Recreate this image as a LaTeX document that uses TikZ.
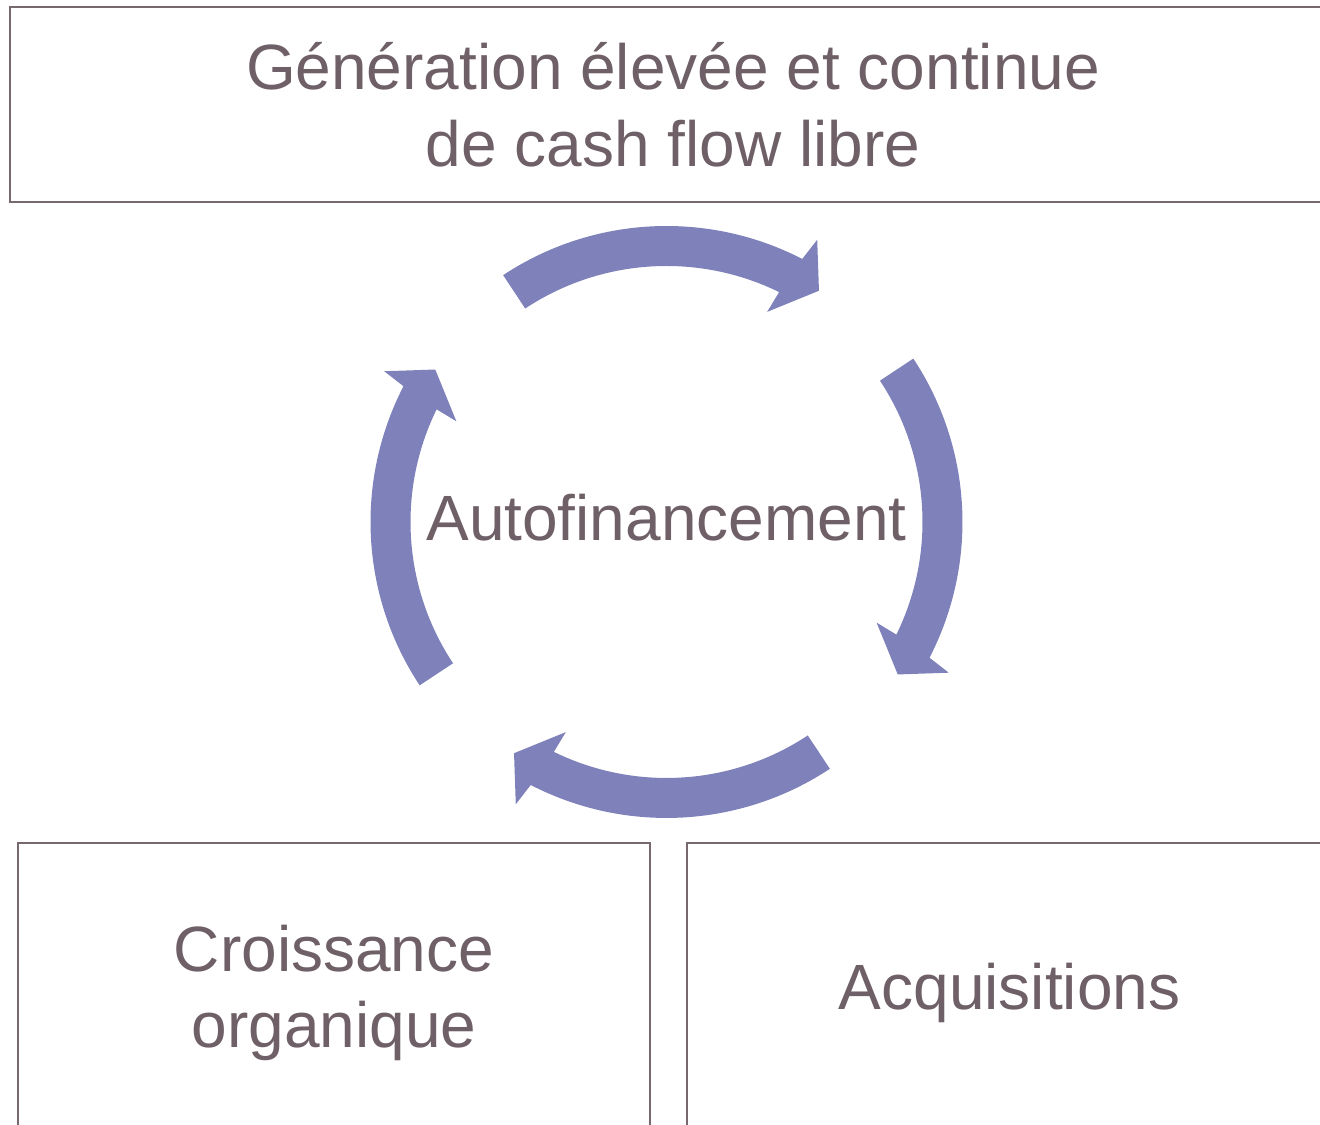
\documentclass[tikz,border=0pt]{standalone}
\usepackage{fontspec}
\setmainfont{Liberation Sans}
\usetikzlibrary{calc}
\definecolor{labelgray}{RGB}{111,96,104}
\definecolor{framegray}{RGB}{118,104,110}
\definecolor{cyclepurple}{RGB}{127,129,187}
\tikzstyle{box}=[rectangle, draw=framegray, line width=0.02cm, fill=white, inner sep=0pt, anchor=center]
\tikzstyle{annot}=[align=center, text=labelgray, font=\fontsize{18.2}{21.8}\selectfont]
\newcommand{\cyclearrow}[1]
{
  \begin{scope}[shift={(ctr)}, rotate=#1]
    \fill[cyclepurple] (123.5:296) arc[start angle=123.5, end angle=62.7, radius=296]
      -- (61.9:320) -- (56.6:277) -- (64.4:233) -- (63.9:256)
      arc[start angle=63.9, end angle=123.5, radius=256] -- cycle;
  \end{scope}
}

\begin{document}
\begin{tikzpicture}[x=0.01cm, y=0.01cm]
	\useasboundingbox (0,0) rectangle (1320,1125);
	\coordinate (ctr) at (666.5,603);

	\node[box, annot, minimum width=13.26cm, minimum height=1.95cm](cashflow) at (673,1020.5){G\'en\'eration \'elev\'ee et continue\\de cash flow libre};
	\node[box, annot, minimum width=6.32cm, minimum height=3cm](organic) at (334,132){Croissance\\organique};
	\node[box, annot, minimum width=6.45cm, minimum height=3cm](acquis) at (1009.5,132){Acquisitions};

	% four arrows of the cycle, clockwise
	\foreach \rot in {0,-90,-180,-270}
	{
		\cyclearrow{\rot}
	}

	\node[annot, yshift=0.04cm](selffin) at (ctr){Autofinancement};
\end{tikzpicture}
\end{document}
